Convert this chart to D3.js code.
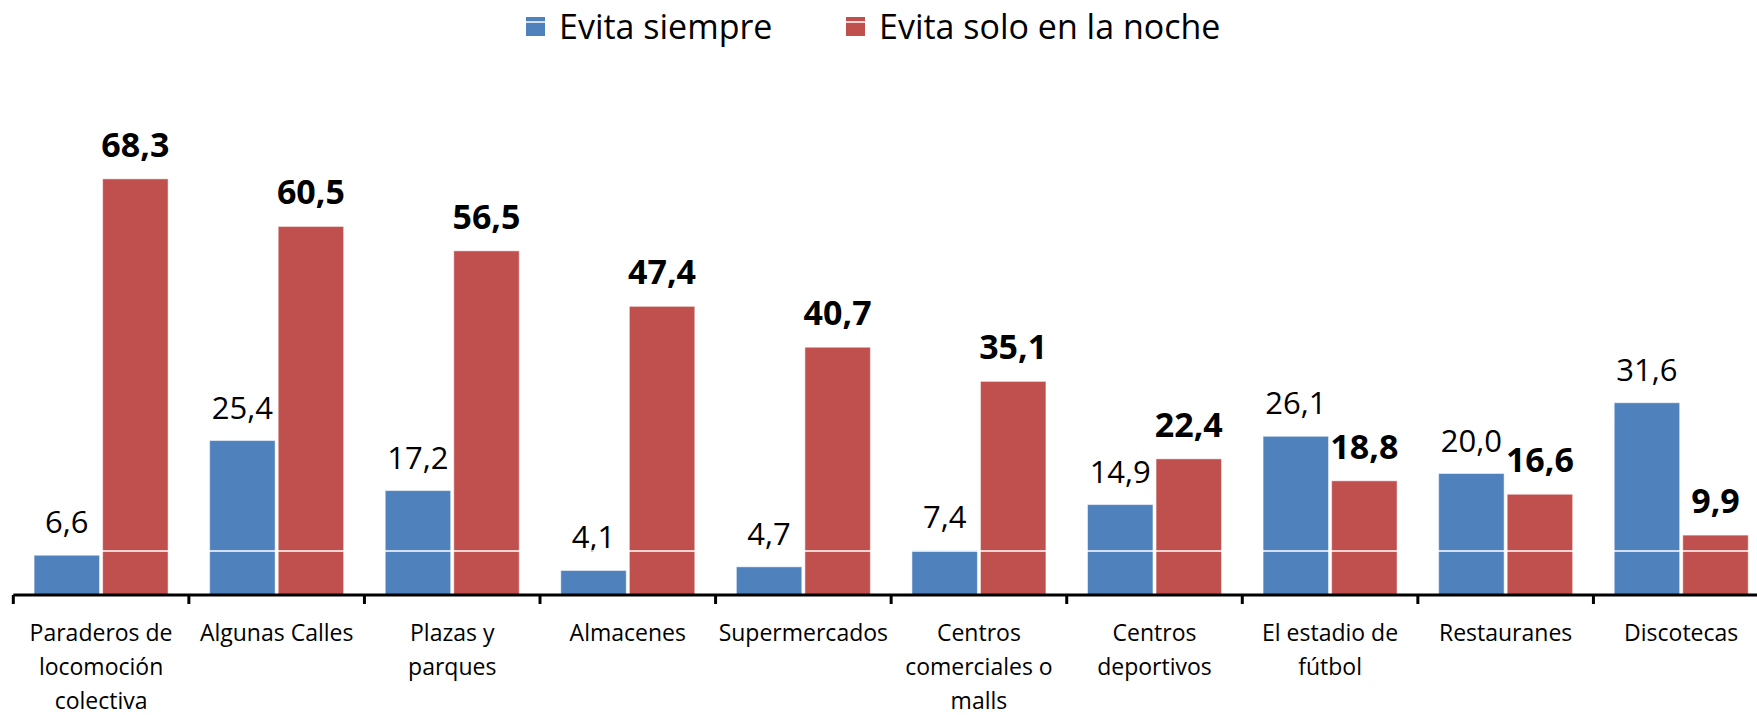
<!DOCTYPE html>
<html>
<head>
<meta charset="utf-8">
<script src="https://cdn.jsdelivr.net/npm/d3@7"></script>
<style>
  body { margin: 0; background: #fff; }
  svg { display: block; font-family: "Open Sans", sans-serif; }
</style>
</head>
<body>
<div id="chart"></div>
<script>
// categories and their wrapped labels
var categories = ["Paraderos", "Calles", "Plazas", "Almacenes", "Supermercados",
                  "Malls", "Deportivos", "Estadio", "Restauranes", "Discotecas"];
var catLabels = [["Paraderos de", "locomoción", "colectiva"],
                 ["Algunas Calles"],
                 ["Plazas y", "parques"],
                 ["Almacenes"],
                 ["Supermercados"],
                 ["Centros", "comerciales o", "malls"],
                 ["Centros", "deportivos"],
                 ["El estadio de", "fútbol"],
                 ["Restauranes"],
                 ["Discotecas"]];

var seriesNames = ["Evita siempre", "Evita solo en la noche"];
var siempre = [6.6, 25.4, 17.2, 4.1, 4.7, 7.4, 14.9, 26.1, 20.0, 31.6];
var noche   = [68.3, 60.5, 56.5, 47.4, 40.7, 35.1, 22.4, 18.8, 16.6, 9.9];
var colors  = ["#4F81BD", "#C0504D"];
var gridValue = 7.3;

var width = 1757, height = 715;

var svg = d3.select("#chart")
  .append("svg")
    .attr("width", width)
    .attr("height", height);

// scales
var x = d3.scaleBand()
  .domain(categories)
  .range([13.3, 1769])
  .padding(0);

var xs = d3.scaleBand()
  .domain(seriesNames)
  .range([x.bandwidth() / 2 - 67, x.bandwidth() / 2 + 67])
  .paddingInner(0.045);

var y = d3.scaleLinear()
  .domain([0, 70])
  .range([595.5, 595.5 - 70 * 6.1]);

var fmt = function(v) { return d3.format(".1f")(v).replace(".", ","); };

var rows = categories.map(function(c, i) {
  return { cat: c, values: [
    { name: seriesNames[0], v: siempre[i], s: 0 },
    { name: seriesNames[1], v: noche[i], s: 1 }
  ]};
});

// bars
var groups = svg.selectAll(".grp")
  .data(rows)
  .enter()
  .append("g")
    .attr("class", "grp")
    .attr("transform", function(d) { return "translate(" + x(d.cat) + ",0)"; });

groups.selectAll("rect")
  .data(function(d) { return d.values; })
  .enter()
  .append("rect")
    .attr("x", function(d) { return xs(d.name); })
    .attr("y", function(d) { return y(d.v); })
    .attr("width", xs.bandwidth())
    .attr("height", function(d) { return y(0) - y(d.v); })
    .style("fill", function(d) { return colors[d.s]; })
    .style("stroke", "#fff")
    .style("stroke-opacity", 0.5)
    .style("stroke-width", 1);

// white gridline over the bars
svg.append("line")
  .attr("x1", x.range()[0])
  .attr("x2", width)
  .attr("y1", y(gridValue))
  .attr("y2", y(gridValue))
  .style("stroke", "#fff")
  .style("stroke-width", 1.5);

// value labels
groups.selectAll(".val")
  .data(function(d) { return d.values; })
  .enter()
  .append("text")
    .attr("class", "val")
    .attr("x", function(d) { return xs(d.name) + xs.bandwidth() / 2; })
    .attr("y", function(d) { return y(d.v) - 22; })
    .attr("text-anchor", "middle")
    .style("font-size", function(d) { return d.s ? "34px" : "31px"; })
    .style("font-weight", function(d) { return d.s ? "bold" : "normal"; })
    .style("fill", "#000")
    .text(function(d) { return fmt(d.v); });

// x axis line and ticks at category boundaries
svg.append("line")
  .attr("x1", x.range()[0])
  .attr("x2", width)
  .attr("y1", 595)
  .attr("y2", 595)
  .style("stroke", "#000")
  .style("stroke-width", 3);

svg.selectAll(".tick")
  .data(categories)
  .enter()
  .append("line")
    .attr("class", "tick")
    .attr("x1", function(d) { return x(d); })
    .attr("x2", function(d) { return x(d); })
    .attr("y1", 595)
    .attr("y2", 604)
    .style("stroke", "#000")
    .style("stroke-width", 3);

// category labels
var cl = svg.selectAll(".cat")
  .data(categories)
  .enter()
  .append("text")
    .attr("class", "cat")
    .attr("text-anchor", "middle")
    .style("font-size", "23px")
    .style("fill", "#000");

cl.each(function(d, i) {
  var t = d3.select(this);
  catLabels[i].forEach(function(line, j) {
    t.append("tspan")
      .attr("x", x(d) + x.bandwidth() / 2)
      .attr("y", 641 + j * 34)
      .text(line);
  });
});

// legend
var legendX = [526, 846];
var leg = svg.selectAll(".leg")
  .data(seriesNames)
  .enter()
  .append("g")
    .attr("class", "leg")
    .attr("transform", function(d, i) { return "translate(" + legendX[i] + ",0)"; });

leg.append("rect")
  .attr("x", 0)
  .attr("y", 17)
  .attr("width", 19)
  .attr("height", 19)
  .style("fill", function(d, i) { return colors[i]; });

leg.append("line")
  .attr("x1", 0).attr("x2", 19)
  .attr("y1", 22).attr("y2", 22)
  .style("stroke", "#fff")
  .style("stroke-width", 1.5);

leg.append("text")
  .attr("x", 33)
  .attr("y", 39)
  .style("font-size", "34px")
  .style("fill", "#000")
  .text(function(d) { return d; });
</script>
</body>
</html>
